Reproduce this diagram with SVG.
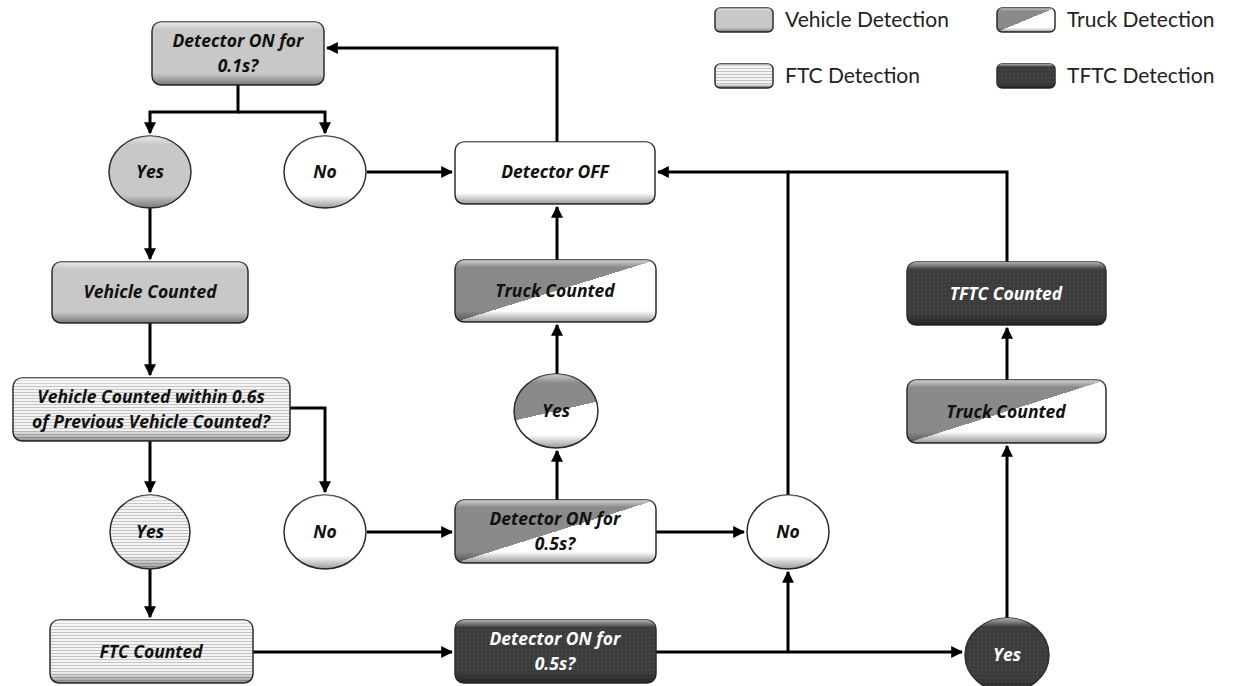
<svg xmlns="http://www.w3.org/2000/svg" width="1242" height="686" viewBox="0 0 1242 686">
<defs>
<style>
.t{font-family:"Open Sans",Lato,"Liberation Sans",sans-serif;font-weight:bold;font-style:italic;font-size:17.5px;fill:#111;text-anchor:middle}
.tw{fill:#fff}
.lg{font-family:Lato,"Open Sans","Liberation Sans",sans-serif;font-size:21px;fill:#222}
.sh{stroke:#2e2e2e;stroke-width:1.5}
.veh{fill:#c8c8c8}
.wht{fill:#ffffff}
.trk{fill:url(#gTruck)}
.trkc{fill:url(#gTruckC)}
.ftc{fill:url(#pFtc)}
.tftc{fill:url(#pTftc)}
.bev{fill:url(#gBevel);stroke:none}
.c{fill:none;stroke:#000;stroke-width:3}
</style>
<linearGradient id="gTruck" x1="0" y1="0" x2="1" y2="1">
<stop offset="0" stop-color="#8a8a8a"/><stop offset="0.5" stop-color="#8a8a8a"/><stop offset="0.5" stop-color="#ffffff"/><stop offset="1" stop-color="#ffffff"/>
</linearGradient>
<linearGradient id="gTruckC" x1="0.37" y1="0" x2="0.63" y2="1">
<stop offset="0" stop-color="#8a8a8a"/><stop offset="0.5" stop-color="#8a8a8a"/><stop offset="0.5" stop-color="#ffffff"/><stop offset="1" stop-color="#ffffff"/>
</linearGradient>
<linearGradient id="gBevel" x1="0" y1="0" x2="0" y2="1">
<stop offset="0" stop-color="#fff" stop-opacity="0.6"/><stop offset="0.12" stop-color="#fff" stop-opacity="0"/><stop offset="0.82" stop-color="#000" stop-opacity="0"/><stop offset="1" stop-color="#000" stop-opacity="0.4"/>
</linearGradient>
<pattern id="pFtc" width="4" height="3" patternUnits="userSpaceOnUse">
<rect width="4" height="3" fill="#f4f4f4"/><rect y="2" width="4" height="1" fill="#c4c4c4"/>
</pattern>
<pattern id="pTftc" width="4" height="4" patternUnits="userSpaceOnUse">
<rect width="4" height="4" fill="#3c3c3c"/><rect x="1" y="1" width="1" height="1" fill="#5a5a5a"/>
</pattern>
<marker id="arr" viewBox="0 0 10 10" refX="9" refY="5" markerWidth="4" markerHeight="4" orient="auto" markerUnits="strokeWidth">
<path d="M0,0 L10,5 L0,10 z" fill="#000"/>
</marker>
</defs>
<rect width="1242" height="686" fill="#fff"/>

<g id="legend">
<rect x="715" y="8" width="58" height="24" rx="5" class="veh sh"/><rect x="715" y="8" width="58" height="24" rx="5" class="bev"/>
<text x="785" y="27" class="lg">Vehicle Detection</text>
<rect x="997" y="8" width="58" height="24" rx="5" class="trk sh"/><rect x="997" y="8" width="58" height="24" rx="5" class="bev"/>
<text x="1067" y="27" class="lg">Truck Detection</text>
<rect x="715" y="64" width="58" height="24" rx="5" class="ftc sh"/><rect x="715" y="64" width="58" height="24" rx="5" class="bev"/>
<text x="785" y="83" class="lg">FTC Detection</text>
<rect x="997" y="64" width="58" height="24" rx="5" class="tftc sh"/><rect x="997" y="64" width="58" height="24" rx="5" class="bev"/>
<text x="1067" y="83" class="lg">TFTC Detection</text>
</g>

<g id="connectors">
<polyline class="c" points="238,85 238,112 150,112 150,133" marker-end="url(#arr)"/>
<polyline class="c" points="238,112 325,112 325,133" marker-end="url(#arr)"/>
<line class="c" x1="367" y1="172" x2="452" y2="172" marker-end="url(#arr)"/>
<polyline class="c" points="557,142 557,48 327,48" marker-end="url(#arr)"/>
<line class="c" x1="150" y1="208" x2="150" y2="259" marker-end="url(#arr)"/>
<line class="c" x1="150" y1="323" x2="150" y2="375" marker-end="url(#arr)"/>
<polyline class="c" points="290,408 325,408 325,492" marker-end="url(#arr)"/>
<line class="c" x1="150" y1="441" x2="150" y2="492" marker-end="url(#arr)"/>
<line class="c" x1="150" y1="569" x2="150" y2="617" marker-end="url(#arr)"/>
<line class="c" x1="367" y1="532" x2="452" y2="532" marker-end="url(#arr)"/>
<line class="c" x1="656" y1="532" x2="744" y2="532" marker-end="url(#arr)"/>
<line class="c" x1="557" y1="500" x2="557" y2="451" marker-end="url(#arr)"/>
<line class="c" x1="557" y1="374" x2="557" y2="325" marker-end="url(#arr)"/>
<line class="c" x1="557" y1="260" x2="557" y2="207" marker-end="url(#arr)"/>
<polyline class="c" points="788,495 788,172 658,172" marker-end="url(#arr)"/>
<polyline class="c" points="1007,262 1007,172 788,172"/>
<line class="c" x1="253" y1="652" x2="452" y2="652" marker-end="url(#arr)"/>
<line class="c" x1="656" y1="652" x2="962" y2="652" marker-end="url(#arr)"/>
<polyline class="c" points="788,652 788,572" marker-end="url(#arr)"/>
<line class="c" x1="1007" y1="618" x2="1007" y2="446" marker-end="url(#arr)"/>
<line class="c" x1="1007" y1="380" x2="1007" y2="328" marker-end="url(#arr)"/>
</g>

<g id="n_on01">
<rect x="152" y="22" width="172" height="63" rx="9" class="veh sh"/><rect x="152" y="22" width="172" height="63" rx="9" class="bev"/>
<text x="238" y="47" class="t">Detector ON for</text><text x="238" y="72" class="t">0.1s?</text>
</g>
<g id="n_yes1">
<ellipse cx="150" cy="172" rx="41" ry="36" class="veh sh"/><ellipse cx="150" cy="172" rx="41" ry="36" class="bev"/>
<text x="150" y="178" class="t">Yes</text>
</g>
<g id="n_no1">
<ellipse cx="325" cy="172" rx="41" ry="36" class="wht sh"/><ellipse cx="325" cy="172" rx="41" ry="36" class="bev"/>
<text x="325" y="178" class="t">No</text>
</g>
<g id="n_off">
<rect x="455" y="142" width="200" height="62" rx="9" class="wht sh"/><rect x="455" y="142" width="200" height="62" rx="9" class="bev"/>
<text x="555" y="178" class="t">Detector OFF</text>
</g>
<g id="n_vc">
<rect x="52" y="262" width="196" height="61" rx="9" class="veh sh"/><rect x="52" y="262" width="196" height="61" rx="9" class="bev"/>
<text x="150" y="298" class="t">Vehicle Counted</text>
</g>
<g id="n_tc1">
<rect x="455" y="260" width="201" height="62" rx="9" class="trk sh"/><rect x="455" y="260" width="201" height="62" rx="9" class="bev"/>
<text x="555" y="297" class="t">Truck Counted</text>
</g>
<g id="n_yes2">
<ellipse cx="556" cy="411" rx="42" ry="37" class="trkc sh"/><ellipse cx="556" cy="411" rx="42" ry="37" class="bev"/>
<text x="556" y="417" class="t">Yes</text>
</g>
<g id="n_within">
<rect x="13" y="378" width="277" height="63" rx="9" class="ftc sh"/><rect x="13" y="378" width="277" height="63" rx="9" class="bev"/>
<text x="151" y="403" class="t">Vehicle Counted within 0.6s</text><text x="151" y="428" class="t">of Previous Vehicle Counted?</text>
</g>
<g id="n_yes3">
<ellipse cx="150" cy="532" rx="40" ry="37" class="ftc sh"/><ellipse cx="150" cy="532" rx="40" ry="37" class="bev"/>
<text x="150" y="538" class="t">Yes</text>
</g>
<g id="n_no2">
<ellipse cx="325" cy="532" rx="41" ry="37" class="wht sh"/><ellipse cx="325" cy="532" rx="41" ry="37" class="bev"/>
<text x="325" y="538" class="t">No</text>
</g>
<g id="n_on05a">
<rect x="455" y="500" width="201" height="63" rx="9" class="trk sh"/><rect x="455" y="500" width="201" height="63" rx="9" class="bev"/>
<text x="555" y="525" class="t">Detector ON for</text><text x="555" y="550" class="t">0.5s?</text>
</g>
<g id="n_no3">
<ellipse cx="788" cy="532" rx="41" ry="37" class="wht sh"/><ellipse cx="788" cy="532" rx="41" ry="37" class="bev"/>
<text x="788" y="538" class="t">No</text>
</g>
<g id="n_ftc">
<rect x="50" y="620" width="203" height="63" rx="9" class="ftc sh"/><rect x="50" y="620" width="203" height="63" rx="9" class="bev"/>
<text x="151" y="658" class="t">FTC Counted</text>
</g>
<g id="n_on05b">
<rect x="455" y="620" width="201" height="63" rx="9" class="tftc sh"/><rect x="455" y="620" width="201" height="63" rx="9" class="bev"/>
<text x="555" y="645" class="t tw">Detector ON for</text><text x="555" y="670" class="t tw">0.5s?</text>
</g>
<g id="n_yes4">
<ellipse cx="1007" cy="655" rx="42" ry="37" class="tftc sh"/><ellipse cx="1007" cy="655" rx="42" ry="37" class="bev"/>
<text x="1007" y="661" class="t tw">Yes</text>
</g>
<g id="n_tc2">
<rect x="907" y="380" width="199" height="63" rx="9" class="trk sh"/><rect x="907" y="380" width="199" height="63" rx="9" class="bev"/>
<text x="1006" y="418" class="t">Truck Counted</text>
</g>
<g id="n_tftc">
<rect x="907" y="262" width="199" height="63" rx="9" class="tftc sh"/><rect x="907" y="262" width="199" height="63" rx="9" class="bev"/>
<text x="1006" y="300" class="t tw">TFTC Counted</text>
</g>
</svg>
